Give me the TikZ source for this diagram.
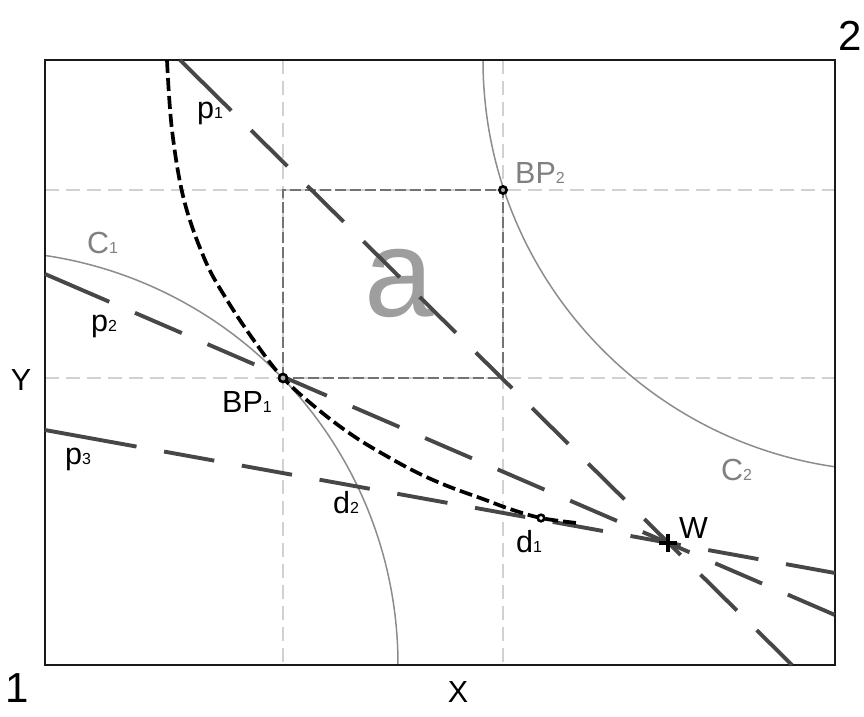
\documentclass[tikz,border=0pt]{standalone}
\usepackage{fontspec}
\setmainfont{Liberation Sans}
\newcommand\subn[1]{{\fontsize{16}{16}\selectfont #1}}
\begin{document}
\begin{tikzpicture}[x=1pt,y=-1pt,
  gridline/.style={draw=black!18, line width=1.2pt, dash pattern=on 14pt off 7pt},
  boxline/.style={draw=black!55, line width=1.3pt, dash pattern=on 11pt off 4pt},
  circline/.style={draw=black!45, line width=1.5pt},
  pline/.style={draw=black!72, line width=3.9pt,
    dash pattern=on #1 off 28pt on 51pt off 28pt on 51pt off 28pt on 51pt off 28pt on 51pt off 28pt on 51pt off 28pt on 51pt off 28pt on 51pt off 28pt on 51pt off 28pt on 51pt off 28pt on 51pt off 28pt},
  curveline/.style={draw=black, line width=3.7pt, dash pattern=on 13pt off 5pt},
  ptmark/.style={draw=black, line width=2.6pt, fill=black!30},
  lbl/.style={font=\fontsize{30.5}{30.5}\selectfont, inner sep=0pt, anchor=base west},
  glbl/.style={lbl, text=black!50},
  bignum/.style={font=\fontsize{42}{42}\selectfont, inner sep=0pt, anchor=base}
]
\useasboundingbox (0,0) rectangle (864,716);

% key points
\coordinate (TL) at (45,60);
\coordinate (BR) at (835,665);
\coordinate (BP1) at (283,378);
\coordinate (BP2) at (503,190);
\coordinate (W) at (668,543);
\coordinate (D1) at (541,518);

% grid lines
\draw[gridline] (283,60) -- (283,665);
\draw[gridline] (503,60) -- (503,665);
\draw[gridline] (45,190) -- (835,190);
\draw[gridline] (45,378) -- (835,378);

% region a
\draw[boxline] (BP1) rectangle (BP2);
\node[font=\fontsize{125}{125}\selectfont, text=black!38, inner sep=0pt, anchor=base] (la) at (399,316) {a};

% circles C1, C2
\begin{scope}
  \clip (TL) rectangle (BR);
  \draw[circline] (-16,665) circle[radius=414pt];
  \draw[circline] (894,60) circle[radius=411pt];
\end{scope}

% frame
\draw[draw=black!90, line width=2.5pt] (TL) rectangle (BR);

% lines p1, p2, p3
\coordinate (p1s) at (180,60);
\coordinate (p1e) at (792,665);
\coordinate (p2s) at (45,274);
\coordinate (p2e) at (835,615);
\coordinate (p3s) at (45,430);
\coordinate (p3e) at (835,573);
\draw[pline=72pt] (p1s) -- (p1e);
\draw[pline=70pt] (p2s) -- (p2e);
\draw[pline=93pt] (p3s) -- (p3e);

% black dashed curve
\draw[curveline] plot[smooth, tension=0.6] coordinates {(167,60) (172,130) (184,200) (205,260) (227,300) (255,342) (283,378) (320,411) (355,437) (390,458) (420,474) (450,487) (483,499) (510,509) (541,518) (577,523)};

% markers
\draw[ptmark] (BP1) circle[radius=4pt];
\draw[ptmark] (BP2) circle[radius=3.6pt];
\draw[ptmark, fill=white] (D1) circle[radius=3.3pt];
\draw[line width=3.8pt] ([xshift=-9pt]W) -- ([xshift=9pt]W);
\draw[line width=3.8pt] ([yshift=-9pt]W) -- ([yshift=9pt]W);

% labels
\node[lbl] (lp1) at (197,118) {p\subn{1}};
\node[lbl] (lp2) at (91,331) {p\subn{2}};
\node[lbl] (lp3) at (65,464) {p\subn{3}};
\node[glbl] (lC1) at (87,253) {C\subn{1}};
\node[glbl] (lC2) at (721,480) {C\subn{2}};
\node[lbl] (lBP1) at (222,412) {BP\subn{1}};
\node[glbl] (lBP2) at (515,183) {BP\subn{2}};
\node[lbl] (ld2) at (333,513) {d\subn{2}};
\node[lbl] (ld1) at (516,552) {d\subn{1}};
\node[lbl] (lW) at (679,538) {W};
\node[lbl, anchor=base] (lY) at (21,390) {Y};
\node[lbl, anchor=base] (lX) at (458,702) {X};
\node[bignum] (n1) at (17,702) {1};
\node[bignum] (n2) at (850,50) {2};
\end{tikzpicture}
\end{document}
